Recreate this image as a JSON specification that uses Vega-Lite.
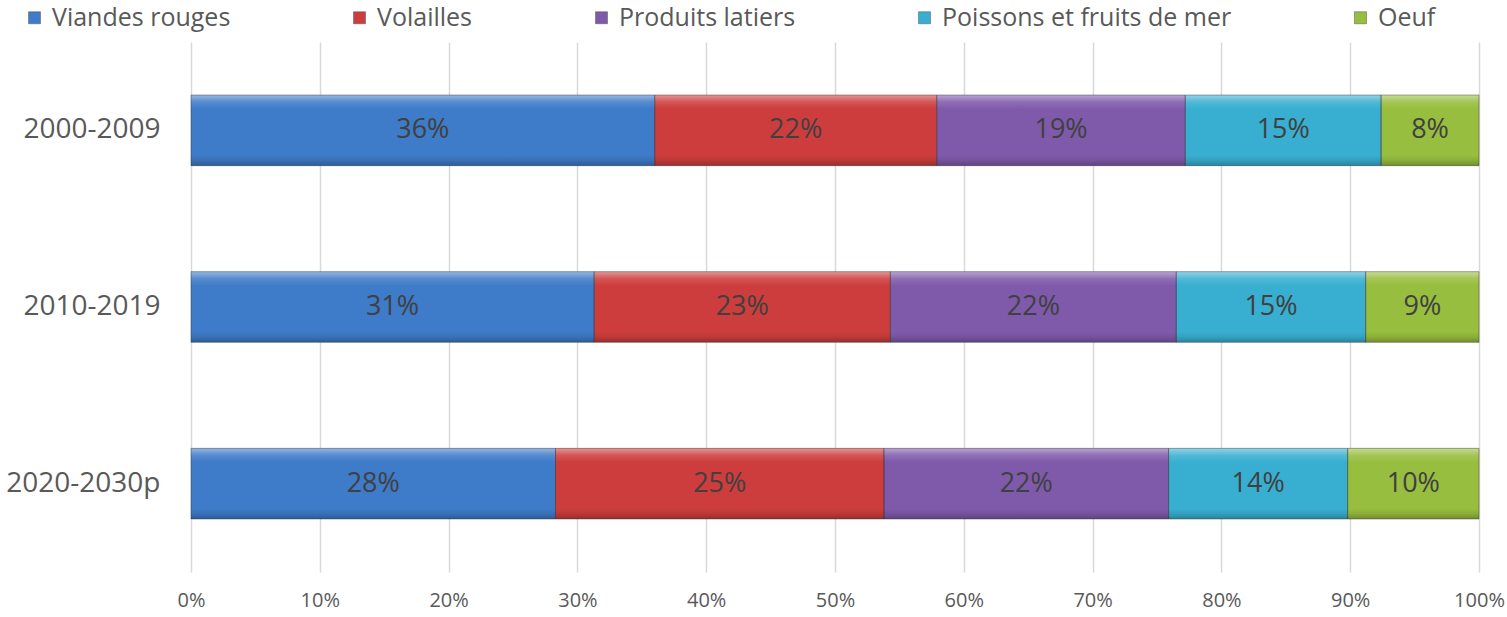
{
  "$schema": "https://vega.github.io/schema/vega-lite/v6.json",
  "width": 1288,
  "height": 530,
  "autosize": "none",
  "padding": {"left": 191, "top": 42, "right": 28, "bottom": 45},
  "background": "white",
  "config": {"view": {"stroke": null}, "font": "Open Sans"},
  "data": {"values": [
    {"periode": "2000-2009", "cat": "Viandes rouges", "ordre": 1, "v": 0.360, "lbl": "36%"},
    {"periode": "2000-2009", "cat": "Volailles", "ordre": 2, "v": 0.219, "lbl": "22%"},
    {"periode": "2000-2009", "cat": "Produits latiers", "ordre": 3, "v": 0.193, "lbl": "19%"},
    {"periode": "2000-2009", "cat": "Poissons et fruits de mer", "ordre": 4, "v": 0.152, "lbl": "15%"},
    {"periode": "2000-2009", "cat": "Oeuf", "ordre": 5, "v": 0.076, "lbl": "8%"},
    {"periode": "2010-2019", "cat": "Viandes rouges", "ordre": 1, "v": 0.313, "lbl": "31%"},
    {"periode": "2010-2019", "cat": "Volailles", "ordre": 2, "v": 0.230, "lbl": "23%"},
    {"periode": "2010-2019", "cat": "Produits latiers", "ordre": 3, "v": 0.222, "lbl": "22%"},
    {"periode": "2010-2019", "cat": "Poissons et fruits de mer", "ordre": 4, "v": 0.147, "lbl": "15%"},
    {"periode": "2010-2019", "cat": "Oeuf", "ordre": 5, "v": 0.088, "lbl": "9%"},
    {"periode": "2020-2030p", "cat": "Viandes rouges", "ordre": 1, "v": 0.283, "lbl": "28%"},
    {"periode": "2020-2030p", "cat": "Volailles", "ordre": 2, "v": 0.255, "lbl": "25%"},
    {"periode": "2020-2030p", "cat": "Produits latiers", "ordre": 3, "v": 0.221, "lbl": "22%"},
    {"periode": "2020-2030p", "cat": "Poissons et fruits de mer", "ordre": 4, "v": 0.139, "lbl": "14%"},
    {"periode": "2020-2030p", "cat": "Oeuf", "ordre": 5, "v": 0.102, "lbl": "10%"}
  ]},
  "encoding": {
    "y": {
      "field": "periode", "type": "nominal",
      "sort": ["2000-2009", "2010-2019", "2020-2030p"],
      "scale": {"paddingInner": 0.6, "paddingOuter": 0.3},
      "axis": {"title": null, "domain": false, "ticks": false, "labelPadding": 31,
               "labelFontSize": 28, "labelColor": "#595959", "labelFont": "Open Sans"}
    },
    "x": {
      "field": "v", "type": "quantitative", "stack": "zero",
      "scale": {"domain": [0, 1], "nice": false},
      "axis": {"title": null, "format": ".0%", "values": [0, 0.1, 0.2, 0.3, 0.4, 0.5, 0.6, 0.7, 0.8, 0.9, 1],
               "domain": false, "ticks": false, "grid": true, "gridColor": "#d9d9d9", "gridWidth": 1.5,
               "labelPadding": 18, "labelFontSize": 20, "labelColor": "#595959", "labelFont": "Open Sans",
               "labelFlush": false, "labelOverlap": false}
    },
    "order": {"field": "ordre", "type": "quantitative"}
  },
  "layer": [
    {
      "mark": {"type": "bar"},
      "encoding": {
        "color": {
          "field": "cat", "type": "nominal",
          "scale": {
            "domain": ["Viandes rouges", "Volailles", "Produits latiers", "Poissons et fruits de mer", "Oeuf"],
            "range": ["#3E7BC8", "#CD3D3D", "#7F5AAB", "#38AFD1", "#97BE3E"]
          },
          "legend": {
            "title": null, "orient": "none", "legendX": -169, "legendY": -37,
            "direction": "horizontal", "columns": 5, "columnPadding": 116,
            "symbolType": "square", "symbolSize": 144, "symbolStrokeWidth": 0.5, "symbolStrokeColor": "#555555",
            "labelFontSize": 25, "labelColor": "#595959", "labelFont": "Open Sans", "labelOffset": 5,
            "labelLimit": 500
          }
        }
      }
    },
    {
      "mark": {
        "type": "bar",
        "stroke": "#2a2a2a", "strokeOpacity": 0.4, "strokeWidth": 1,
        "fill": {"gradient": "linear", "x1": 0, "y1": 0, "x2": 0, "y2": 1, "stops": [
          {"offset": 0, "color": "rgba(255,255,255,0.45)"},
          {"offset": 0.1, "color": "rgba(255,255,255,0.12)"},
          {"offset": 0.2, "color": "rgba(255,255,255,0)"},
          {"offset": 0.85, "color": "rgba(0,0,0,0)"},
          {"offset": 0.92, "color": "rgba(0,0,0,0.08)"},
          {"offset": 1, "color": "rgba(0,0,0,0.25)"}
        ]}
      },
      "encoding": {"detail": {"field": "cat"}}
    },
    {
      "mark": {"type": "text", "fontSize": 27, "color": "#404040", "font": "Open Sans", "align": "center", "baseline": "middle"},
      "encoding": {
        "x": {"field": "v", "type": "quantitative", "stack": "zero", "bandPosition": 0.5},
        "detail": {"field": "cat"},
        "text": {"field": "lbl"}
      }
    }
  ]
}
